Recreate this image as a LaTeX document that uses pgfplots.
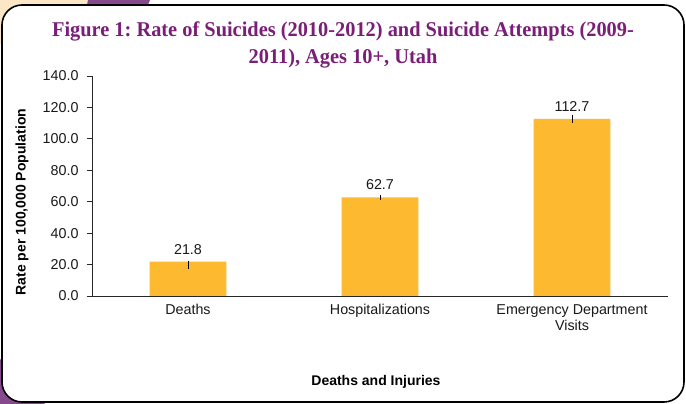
\documentclass[border=0pt]{standalone}
\usepackage{pgfplots}
\pgfplotsset{compat=1.18}
\usepackage{fontspec}
\setmainfont{Liberation Sans}
\newfontfamily\titlefont[FakeStretch=0.97]{Liberation Serif}
\definecolor{barc}{RGB}{253,186,48}
\definecolor{ttl}{RGB}{122,30,120}
\definecolor{beige}{RGB}{251,230,198}
\definecolor{purp}{RGB}{134,74,140}
\begin{document}
\frenchspacing
\begin{tikzpicture}[x=1pt,y=1pt]
\useasboundingbox (0,0) rectangle (686,404);
\fill[white] (0,0) rectangle (686,404);
\fill[beige] (0,360) rectangle (96,404);
\fill[purp] (88,404) -- (150,404) -- (146,394) -- (86,394) -- cycle;
\fill[purp] (0,0) -- (45,0) -- (0,45) -- cycle;
\draw[line width=1.6pt, rounded corners=20pt, fill=white] (2,2) rectangle (684,399);
\node[ttl, font=\titlefont\bfseries\fontsize{21}{27}\selectfont, align=center] at (343,359.5)
  {Figure 1: Rate of Suicides (2010-2012) and Suicide Attempts (2009-\\2011), Ages 10+, Utah};
\begin{axis}[
  at={(92pt,108pt)}, anchor=south west, scale only axis,
  width=576pt, height=220pt,
  xmin=-0.5, xmax=2.5, ymin=0, ymax=140,
  axis x line*=bottom, axis y line*=left,
  axis line style={line width=0.8pt, black!85},
  ytick={0,20,...,140},
  yticklabel style={/pgf/number format/fixed, /pgf/number format/fixed zerofill, /pgf/number format/precision=1, xshift=-5pt},
  /pgf/number format/assume math mode=true,
  xtick={0,1,2},
  xticklabels={Deaths,Hospitalizations,{Emergency Department\\Visits}},
  xticklabel style={align=center},
  minor xtick={-0.5,0.5,1.5,2.5},
  tick align=outside, major tick length=5pt, minor tick length=5pt,
  xtick style={draw=none},
  minor tick style={line width=0.8pt, black!85},
  ytick style={line width=0.8pt, black!85},
  tick label style={font=\fontsize{14.3}{16}\selectfont, text=black!90},
  xlabel={Deaths and Injuries},
  xlabel style={font=\bfseries\fontsize{14}{16}\selectfont, at={(axis description cs:0.493,-0.391)}, anchor=center},
  ylabel={Rate per 100,000 Population},
  ylabel style={font=\bfseries\fontsize{14}{16}\selectfont, at={(axis description cs:-0.1215,0.427)}, anchor=center},
  clip=false,
]
\addplot[ybar, bar width=0.4, fill=barc, draw=none,
  nodes near coords={\pgfmathprintnumber[fixed,fixed zerofill,precision=1]{\pgfplotspointmeta}},
  every node near coord/.append style={font=\fontsize{14.3}{16}\selectfont, text=black!90, yshift=4pt},
  error bars/.cd, y dir=both, y explicit, error mark=none,
  error bar style={black, line width=0.9pt}]
  coordinates {
    (0,21.8) += (0,0.5) -= (0,4.8)
    (1,62.7) += (0,1.7) -= (0,1.7)
    (2,112.7) += (0,2.7) -= (0,2.7)
  };
\end{axis}
\end{tikzpicture}
\end{document}
